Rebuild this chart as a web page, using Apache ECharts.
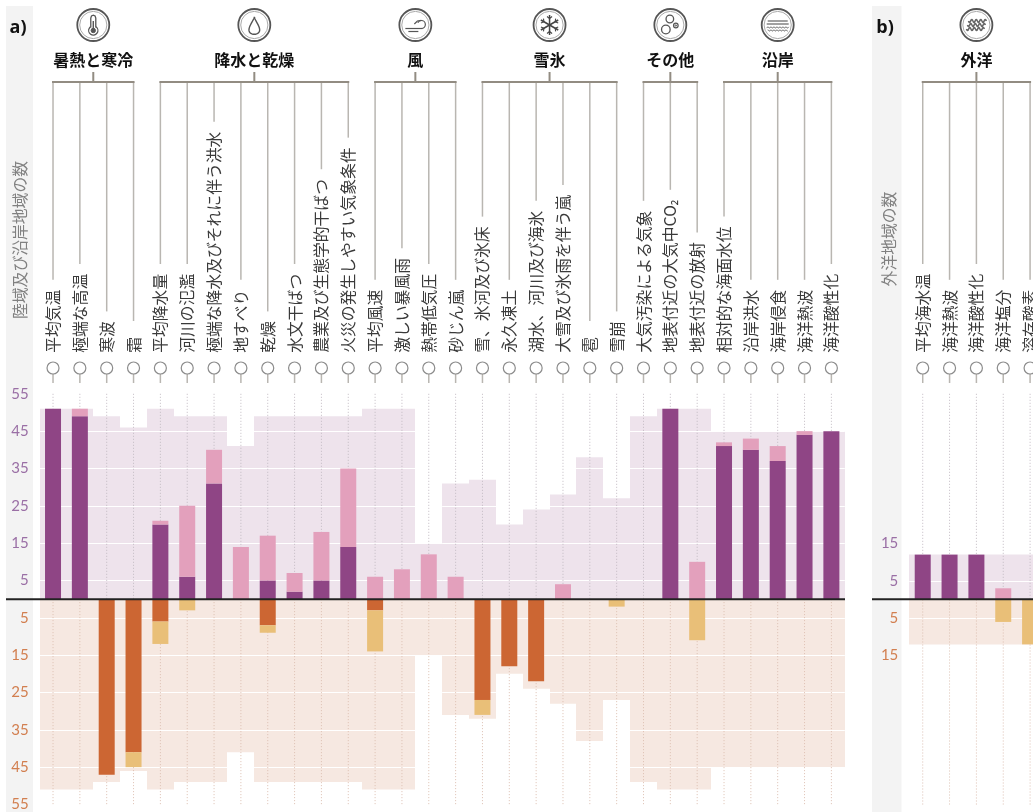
<!DOCTYPE html>
<html lang="ja">
<head>
<meta charset="utf-8">
<title>気候影響駆動要因</title>
<style>html,body{margin:0;padding:0;background:#fff;overflow:hidden}#w{width:1033px;height:812px;overflow:hidden}#c{width:1100px;height:812px}</style>
<script src="https://cdn.jsdelivr.net/npm/echarts@6/dist/echarts.min.js"></script>
</head>
<body>
<div id="w"><div id="c"></div></div>
<script>
// ---------- data ----------
const landCategories = ['平均気温','極端な高温','寒波','霜','平均降水量','河川の氾濫','極端な降水及びそれに伴う洪水','地すべり','乾燥','水文干ばつ','農業及び生態学的干ばつ','火災の発生しやすい気象条件','平均風速','激しい暴風雨','熱帯低気圧','砂じん嵐','雪、氷河及び氷床','永久凍土','湖水、河川及び海氷','大雪及び氷雨を伴う嵐','雹','雪崩','大気汚染による気象','地表付近の大気中CO₂','地表付近の放射','相対的な海面水位','沿岸洪水','海岸侵食','海洋熱波','海洋酸性化'];
const oceanCategories = ['平均海水温','海洋熱波','海洋酸性化','海洋塩分','溶存酸素'];

const landAssessed  = [51,51,49,46,51,49,49,41,49,49,49,49,51,51,15,31,32,20,24,28,38,27,49,51,51,45,45,45,45,45];
const landUpStrong  = [51,49,0,0,20,6,31,0,5,2,5,14,0,0,0,0,0,0,0,0,0,0,0,51,0,41,40,37,44,45];
const landUpWeak    = [0,2,0,0,1,19,9,14,12,5,13,21,6,8,12,6,0,0,0,4,0,0,0,0,10,1,3,4,1,0];
const landDownStrong= [0,0,-47,-41,-6,0,0,0,-7,0,0,0,-3,0,0,0,-27,-18,-22,0,0,0,0,0,0,0,0,0,0,0];
const landDownWeak  = [0,0,0,-4,-6,-3,0,0,-2,0,0,0,-11,0,0,0,-4,0,0,0,0,-2,0,0,-11,0,0,0,0,0];

const oceanAssessed  = [12,12,12,12,12];
const oceanUpStrong  = [12,12,12,0,0];
const oceanUpWeak    = [0,0,0,3,0];
const oceanDownStrong= [0,0,0,0,0];
const oceanDownWeak  = [0,0,0,-6,-12];

const landTicks  = [-55,-45,-35,-25,-15,-5,5,15,25,35,45,55];
const oceanTicks = [-15,-5,5,15];

const landGroupNames = ['暑熱と寒冷','降水と乾燥','風','雪氷','その他','沿岸'];
const landGroupSizes = [4,8,4,6,3,5];
const landGroupIcons = ['thermo','drop','wind','snow','bubbles','coast'];
const oceanGroupNames = ['外洋'];
const oceanGroupSizes = [5];
const oceanGroupIcons = ['ocean'];

const landAxisTitle = '陸域及び沿岸地域の数';
const oceanAxisTitle = '外洋地域の数';

// ---------- style ----------
const C = {
  strong:'#8f4585', weak:'#e3a0bc', down:'#cc6633', downWeak:'#e9bf78',
  paleUp:'#eee3ec', paleDown:'#f6e8e1',
  tickUp:'#9a6fa5', tickDown:'#d27f50',
  text:'#3a3a3a', stem:'#b9b6b1', bracket:'#928c82', strip:'#f3f3f3'
};
const JP = '"Noto Sans CJK JP","Noto Sans",sans-serif';
const PITCH = 26.84;
const GRID_TOP = 393.8, GRID_H = 411.4;
const LABEL_SIZE = 15.8;

const chart = echarts.init(document.getElementById('c'), null, {width:1100, height:812});

function bandItem(color, sign){
  return function(params, api){
    const i = api.value(0), v = api.value(1);
    const w = api.size([1,0])[0];
    const a = api.coord([i,0]), b = api.coord([i,v*sign]);
    const x0 = Math.round(a[0]-w/2), x1 = Math.round(a[0]+w/2);
    return {type:'rect', shape:{x:x0, y:Math.min(a[1],b[1]), width:x1-x0, height:Math.abs(a[1]-b[1])}, style:{fill:color}};
  };
}
function dotItem(params, api){
  const i = api.value(0);
  const t = api.coord([i,55]), m = api.coord([i,0]), b = api.coord([i,-55]);
  return {type:'group', children:[
    {type:'line', shape:{x1:t[0],y1:t[1],x2:m[0],y2:m[1]}, style:{stroke:'#c2bac2',lineWidth:1,lineDash:[1,2]}},
    {type:'line', shape:{x1:m[0],y1:m[1],x2:b[0],y2:b[1]}, style:{stroke:'#dcbfb1',lineWidth:1,lineDash:[1,2]}}
  ]};
}
function panelSeries(idx, assessed, upS, upW, downS, downW){
  const pts = assessed.map((v,i)=>[i,v]);
  const common = {xAxisIndex:idx, yAxisIndex:idx, silent:true};
  const bar = (name,data,color)=>({...common, type:'bar', name, data, stack:'p'+idx, barWidth:16, itemStyle:{color}, z:4, animation:false});
  return [
    {...common, type:'custom', name:'評価対象(増加側)', renderItem:bandItem(C.paleUp,1), data:pts, z:1, clip:false, animation:false},
    {...common, type:'custom', name:'評価対象(減少側)', renderItem:bandItem(C.paleDown,-1), data:pts, z:1, clip:false, animation:false},
    {...common, type:'custom', name:'目盛線', renderItem:dotItem, data:pts, z:3, clip:false, animation:false},
    bar('増加(確信度高)',upS,C.strong),
    bar('増加(確信度中)',upW,C.weak),
    bar('減少(確信度高)',downS,C.down),
    bar('減少(確信度中)',downW,C.downWeak)
  ];
}
function xAxisFor(idx, cats){
  return {gridIndex:idx, type:'category', data:cats, position:'top', boundaryGap:true,
    axisLine:{show:false, onZero:false}, axisTick:{show:false}, splitLine:{show:false},
    axisLabel:{interval:0, rotate:-90, margin:41, fontFamily:JP, fontSize:LABEL_SIZE, color:C.text}};
}
function yAxisFor(idx, ticks){
  return {gridIndex:idx, type:'value', min:-55, max:55, interval:5, z:2,
    axisLine:{show:false},
    axisTick:{show:false, customValues:ticks},
    splitLine:{show:true, lineStyle:{color:'#ffffff', width:1}},
    axisLabel:{customValues:ticks, margin:11, fontFamily:'Lato,sans-serif', fontSize:15,
      color:v=>v<0?C.tickDown:C.tickUp, formatter:v=>String(Math.abs(v))}};
}

chart.setOption({
  animation:false,
  backgroundColor:'#fff',
  grid:[
    {left:39.6, width:PITCH*landCategories.length, top:GRID_TOP, height:GRID_H, containLabel:false},
    {left:909.3, width:PITCH*oceanCategories.length, top:GRID_TOP, height:GRID_H, containLabel:false}
  ],
  xAxis:[xAxisFor(0,landCategories), xAxisFor(1,oceanCategories)],
  yAxis:[yAxisFor(0,landTicks), yAxisFor(1,oceanTicks)],
  series:[
    ...panelSeries(0,landAssessed,landUpStrong,landUpWeak,landDownStrong,landDownWeak),
    ...panelSeries(1,oceanAssessed,oceanUpStrong,oceanUpWeak,oceanDownStrong,oceanDownWeak)
  ]
});

// ---------- decoration positioned from the axes ----------
const meas = document.createElement('canvas').getContext('2d');
meas.font = LABEL_SIZE+'px '+JP;
const LABEL_BASE = 353, CIRCLE_Y = 368, STEM_END = 383, BRACKET_Y = 82, TITLE_Y = 60, ICON_Y = 25;

function ln(x1,y1,x2,y2,stroke,lineWidth,z){
  return {type:'line', silent:true, z:z||6, shape:{x1,y1,x2,y2}, style:{stroke,lineWidth}};
}
function ring(cx,cy,r,stroke,lineWidth,fill){
  return {type:'circle', silent:true, z:6, shape:{cx,cy,r}, style:{stroke,lineWidth,fill:fill||'none'}};
}
function poly(cx,cy,pts,stroke,lineWidth){
  return {type:'polyline', silent:true, z:6, shape:{points:pts.map(p=>[cx+p[0],cy+p[1]])}, style:{stroke,lineWidth,fill:'none'}};
}
function wave(cx,cy,half,amp,per){
  const p=[]; for(let x=-half;x<=half;x+=0.5) p.push([x,amp*Math.sin(x/per*2*Math.PI)]);
  return poly(cx,cy,p,'#666',1);
}
function icon(kind,cx,cy){
  const g=[ring(cx,cy,16,'#555',1.8,'#fff'), ring(cx,cy,13.6,'#aaa',1)];
  const d='#555';
  if(kind==='thermo'){
    g.push(poly(cx,cy,[[-2.5,2.5],[-2.5,-7],[-1.8,-9],[0,-9.8],[1.8,-9],[2.5,-7],[2.5,2.5]],d,1.3));
    g.push({type:'arc',silent:true,z:6,shape:{cx,cy:cy+5.5,r:4.6,startAngle:-0.95,endAngle:Math.PI+0.95,clockwise:true},style:{stroke:d,lineWidth:1.3,fill:'none'}});
    g.push(ring(cx,cy+5.5,2.2,d,1,d)); g.push(ln(cx,cy-4,cx,cy+4,d,1.4));
  } else if(kind==='drop'){
    const p=[]; for(let t=0;t<=6.3;t+=0.15){const s=Math.sin(t/2); p.push([6.6*Math.sin(t)*s*s*1.25, -8.8*Math.cos(t)+ -0+0.5]);}
    g.push(poly(cx,cy,p,d,1.4));
  } else if(kind==='wind'){
    g.push(ln(cx-10,cy+3.5,cx+7,cy+3.5,d,1.2)); g.push(ln(cx-7,cy+6.5,cx+3,cy+6.5,d,1.2));
    g.push({type:'arc',silent:true,z:6,shape:{cx:cx+6,cy:cy-0.5,r:4,startAngle:Math.PI/2,endAngle:Math.PI*1.15,clockwise:false},style:{stroke:d,lineWidth:1.2,fill:'none'}});
    g.push(poly(cx,cy,[[-1,-1],[2,-4],[6,-4.6]],d,1.2));
  } else if(kind==='snow'){
    for(let k=0;k<3;k++){
      const a=Math.PI/2+k*Math.PI/3, c=Math.cos(a), s=Math.sin(a);
      g.push(ln(cx-10*c,cy-10*s,cx+10*c,cy+10*s,'#444',1.5));
      [1,-1].forEach(u=>{[0.5,-0.5].forEach(o=>{
        const b=a+o*1.8, mx=u*6.5*c, my=u*6.5*s, bc=Math.cos(u>0?b:b+Math.PI), bs=Math.sin(u>0?b:b+Math.PI);
        g.push(ln(cx+mx,cy+my,cx+mx-3.2*bc*-1,cy+my-3.2*bs*-1,'#444',1.1));
      });});
    }
  } else if(kind==='bubbles'){
    g.push(ring(cx-0.5,cy-6,3.8,d,1.3)); g.push(ring(cx-4.5,cy+4.5,4.3,d,1.3));
    g.push(ring(cx+5.5,cy+0.5,2.3,d,1.2)); g.push(ring(cx+5.5,cy+0.5,0.7,d,1));
  } else if(kind==='coast'){
    g.push(ln(cx-10,cy-4,cx+10,cy-4,d,1.1)); g.push(ln(cx-11,cy-1,cx+11,cy-1,d,1.1));
    g.push(wave(cx,cy+2.5,11,0.7,3)); g.push(wave(cx,cy+5.5,10,0.7,3));
  } else if(kind==='ocean'){
    [-4,0,4].forEach((o,j)=>{const w=wave(cx+(j-1)*-1,cy+o,9,1.5,4.5); w.style.lineWidth=1.5; g.push(w);});
  }
  return g;
}

const deco=[];
function strip(x,w){ deco.push({type:'rect',silent:true,z:-10,shape:{x,y:6,width:w,height:806},style:{fill:C.strip}}); }
strip(6,27); strip(872,29.5);

function panelDeco(idx,cats,names,sizes,icons){
  const px=i=>chart.convertToPixel({xAxisIndex:idx,yAxisIndex:idx},[i,0])[0];
  cats.forEach((c,i)=>{
    const x=px(i);
    const top=Math.min(LABEL_BASE-meas.measureText(c).width-10,321);
    deco.push(ln(x,BRACKET_Y,x,top,C.stem,1.5));
    deco.push(ln(x,CIRCLE_Y+6,x,STEM_END,C.stem,1.5));
    deco.push(ring(x,CIRCLE_Y,6,'#8c8c8c',1.2,'#fff'));
  });
  let s=0;
  names.forEach((n,k)=>{
    const e=s+sizes[k]-1, x0=px(s), x1=px(e), mid=(x0+x1)/2;
    deco.push(ln(x0-1,BRACKET_Y,x1+1,BRACKET_Y,C.bracket,2));
    deco.push(ln(mid,TITLE_Y+12,mid,BRACKET_Y,C.bracket,2));
    deco.push({type:'text',silent:true,z:6,style:{x:mid,y:TITLE_Y,text:n,align:'center',verticalAlign:'middle',font:'bold 16px '+JP,fill:'#111'}});
    deco.push(...icon(icons[k],mid,ICON_Y));
    s=e+1;
  });
  const z0=chart.convertToPixel({xAxisIndex:idx,yAxisIndex:idx},[0,0])[1];
  return z0;
}
const zero=panelDeco(0,landCategories,landGroupNames,landGroupSizes,landGroupIcons);
panelDeco(1,oceanCategories,oceanGroupNames,oceanGroupSizes,oceanGroupIcons);

deco.push(ln(6,zero,845,zero,'#222',2,8));
deco.push(ln(872,zero,1100,zero,'#222',2,8));

function sideText(t,x,y){ deco.push({type:'text',silent:true,z:6,rotation:Math.PI/2,x,y,style:{text:t,align:'center',verticalAlign:'middle',font:LABEL_SIZE+'px '+JP,fill:'#808080'}}); }
sideText(landAxisTitle,20,240);
sideText(oceanAxisTitle,889,239);
deco.push({type:'text',silent:true,z:6,style:{x:18,y:28,text:'a)',align:'center',verticalAlign:'middle',font:'bold 18px "Open Sans",sans-serif',fill:'#111'}});
deco.push({type:'text',silent:true,z:6,style:{x:885,y:28,text:'b)',align:'center',verticalAlign:'middle',font:'bold 18px "Open Sans",sans-serif',fill:'#111'}});

chart.setOption({graphic:{elements:deco}});
</script>
</body>
</html>
